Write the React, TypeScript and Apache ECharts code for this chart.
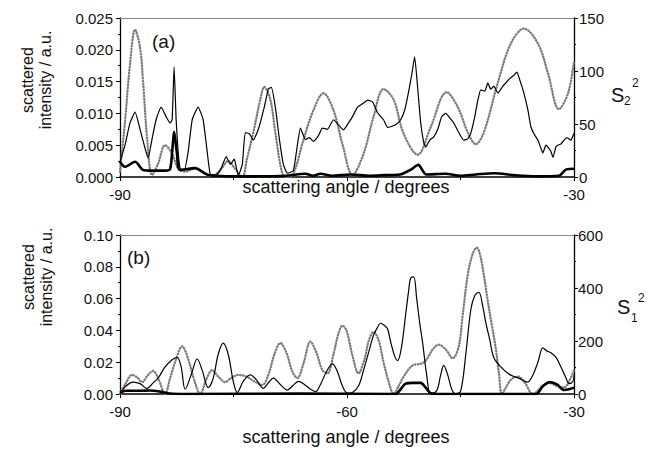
import React, { useEffect, useRef } from "react";
import * as echarts from "echarts";

// axis ranges / ticks
const X_MIN = -90;
const X_MAX = -30;
const X_STEP = 30;
const TOP_LEFT = { max: 0.025, step: 0.005, digits: 3 };
const TOP_RIGHT = { max: 150, step: 50 };
const BOT_LEFT = { max: 0.1, step: 0.02, digits: 2 };
const BOT_RIGHT = { max: 600, step: 200 };

// ---- panel (a) ----
// S2^2 (right axis), dotted grey
const topS2: number[][] = [
  [-90, 5], [-89.34, 52], [-88.68, 106], [-88.01, 139], [-87.35, 122], [-86.95, 90], [-86.42, 37], [-85.76, 2],
  [-85.0, 12], [-84.04, 30], [-83.11, 22], [-82.32, 8], [-81.39, 5], [-80.07, 8], [-78.8, 3], [-77.81, 1],
  [-76.6, 8], [-75.7, 15], [-74.8, 8], [-73.84, 0], [-73.2, 18], [-72.38, 42], [-71.46, 73], [-70.93, 85],
  [-70.13, 73], [-69.47, 42], [-68.54, 3], [-67.88, 0], [-67.09, 3], [-65.76, 35], [-64.44, 63], [-63.11, 79],
  [-61.79, 63], [-60.6, 31], [-59.27, 2], [-57.81, 22], [-56.49, 57], [-55.17, 83], [-53.84, 73], [-52.52, 41],
  [-50.66, 21], [-48.94, 47], [-46.82, 80], [-45.36, 66], [-44.04, 42], [-42.98, 31], [-41.92, 42], [-40.07, 89],
  [-38.34, 126], [-36.62, 140], [-34.77, 126], [-33.44, 98], [-31.99, 64], [-30.79, 79], [-30, 109],
];
// scattered intensity (left axis), thin black
const topThin: number[][] = [
  [-90.0, 0.0024], [-89.34, 0.005], [-88.68, 0.0085], [-88.01, 0.0102], [-87.35, 0.0075], [-86.69, 0.0045],
  [-86.29, 0.003], [-85.76, 0.006], [-85.23, 0.009], [-84.57, 0.011], [-83.91, 0.0095], [-83.38, 0.0085],
  [-83.11, 0.009], [-82.85, 0.0173], [-82.58, 0.009], [-82.32, 0.004], [-82.05, 0.0014], [-81.52, 0.001],
  [-80.99, 0.004], [-80.46, 0.009], [-79.67, 0.011], [-79.01, 0.009], [-78.48, 0.004], [-78.08, 0.0005],
  [-77.42, 0.0002], [-76.75, 0.001], [-75.96, 0.0032], [-75.43, 0.002], [-74.9, 0.0028], [-74.37, 0.0002],
  [-73.84, 0.002], [-73.44, 0.007], [-72.91, 0.0068], [-72.38, 0.0058], [-71.72, 0.0075], [-70.93, 0.011],
  [-70.4, 0.0138], [-70.0, 0.0141], [-69.47, 0.011], [-68.94, 0.006], [-68.41, 0.002], [-67.88, 0.0006],
  [-67.09, 0.001], [-66.56, 0.005], [-66.16, 0.0077], [-65.5, 0.0059], [-64.97, 0.0062], [-64.44, 0.0056],
  [-63.77, 0.0065], [-63.25, 0.0077], [-62.58, 0.0075], [-61.79, 0.009], [-61.13, 0.0082], [-60.46, 0.0074],
  [-59.8, 0.0085], [-59.27, 0.0095], [-58.61, 0.011], [-57.95, 0.0115], [-57.28, 0.0121], [-56.62, 0.0118],
  [-55.96, 0.0101], [-55.17, 0.009], [-54.64, 0.0078], [-54.24, 0.0079], [-53.58, 0.0082], [-52.91, 0.009],
  [-52.38, 0.0105], [-51.99, 0.0126], [-51.46, 0.016], [-51.06, 0.0189], [-50.66, 0.014], [-50.26, 0.0085],
  [-49.87, 0.0055], [-49.6, 0.0047], [-49.07, 0.0058], [-48.54, 0.0063], [-48.01, 0.0075], [-47.48, 0.0095],
  [-46.95, 0.01], [-46.42, 0.0093], [-45.89, 0.0085], [-45.23, 0.007], [-44.57, 0.0058], [-44.04, 0.006],
  [-43.64, 0.0069], [-43.11, 0.0095], [-42.72, 0.012], [-42.32, 0.0137], [-41.79, 0.0135], [-41.39, 0.0148],
  [-40.99, 0.0138], [-40.6, 0.0143], [-40.07, 0.0132], [-39.4, 0.0143], [-39.01, 0.0148], [-38.48, 0.0155],
  [-37.95, 0.016], [-37.55, 0.0165], [-37.15, 0.0152], [-36.62, 0.0132], [-36.09, 0.0105], [-35.7, 0.0079],
  [-35.3, 0.0068], [-34.77, 0.0058], [-34.37, 0.0045], [-34.11, 0.0038], [-33.71, 0.005], [-33.44, 0.0047],
  [-33.05, 0.004], [-32.78, 0.0031], [-32.38, 0.0048], [-32.12, 0.005], [-31.72, 0.0052], [-31.32, 0.0058],
  [-30.93, 0.0062], [-30.4, 0.0058], [-30.13, 0.0065], [-30.0, 0.0069],
];
// scattered intensity (left axis), thick black
const topThick: number[][] = [
  [-90, 0.0024], [-89.34, 0.0016], [-88.01, 0.0024], [-86.95, 0.0011], [-85.8, 0.001], [-84.0, 0.001],
  [-83.4, 0.0012], [-83.1, 0.004], [-82.85, 0.0071], [-82.5, 0.004], [-82.05, 0.0011], [-80.1, 0.0014],
  [-78.3, 0.0003], [-77, 0.0002], [-75.5, 0.0001], [-72, 0.0001], [-68, 0.0002], [-65.5, 0.0005],
  [-64.5, 0.0002], [-63.5, 0.0005], [-62, 0.0002], [-59.5, 0.0004], [-57, 0.0002], [-55, 0.0003],
  [-53, 0.0004], [-51.5, 0.0012], [-50.6, 0.0019], [-49.5, 0.0004], [-47, 0.0005], [-45, 0.0002],
  [-43, 0.0004], [-40.5, 0.0006], [-38, 0.0003], [-35, 0.0001], [-32, 0.0002], [-31, 0.0012], [-30, 0.0013],
];

// ---- panel (b) ----
// S1^2 (right axis), dotted grey
const botS1: number[][] = [
  [-90.0, 0], [-89.21, 42], [-88.41, 72], [-87.75, 63], [-87.09, 45], [-86.29, 72], [-85.63, 87], [-84.97, 60],
  [-84.04, 0], [-83.38, 60], [-82.58, 132], [-81.79, 180], [-80.99, 132], [-80.2, 54], [-79.4, 0], [-78.61, 54],
  [-77.81, 90], [-77.02, 66], [-76.09, 45], [-75.43, 58], [-74.37, 72], [-73.31, 66], [-72.25, 48], [-71.19, 34],
  [-70.4, 72], [-69.6, 150], [-68.81, 192], [-68.01, 156], [-67.22, 84], [-66.56, 60], [-65.76, 114], [-64.83, 198],
  [-64.04, 156], [-63.25, 90], [-62.58, 78], [-61.79, 150], [-61.13, 228], [-60.6, 258], [-60.07, 240],
  [-59.27, 144], [-58.48, 78], [-57.68, 132], [-57.15, 198], [-56.49, 234], [-55.83, 204], [-55.17, 120],
  [-54.5, 48], [-53.84, 0], [-53.18, 30], [-52.38, 72], [-51.32, 108], [-50.26, 114], [-49.6, 126], [-48.68, 168],
  [-47.88, 186], [-46.95, 168], [-46.03, 135], [-45.23, 180], [-44.7, 300], [-44.04, 450], [-43.38, 530],
  [-42.85, 552], [-42.45, 530], [-41.92, 450], [-41.39, 350], [-40.86, 260], [-40.33, 170], [-39.93, 80],
  [-39.54, 0], [-39.01, 24], [-38.34, 54], [-37.42, 66], [-36.49, 42], [-35.43, 0], [-34.37, 24], [-33.31, 42],
  [-32.25, 30], [-31.32, 25], [-30.53, 55], [-30.0, 90],
];
// scattered intensity (left axis), thin black
const botThin: number[][] = [
  [-90.0, 0], [-89.21, 0.005], [-88.28, 0.0075], [-87.35, 0.0065], [-86.42, 0.0035], [-85.63, 0.007],
  [-84.97, 0.01], [-84.04, 0.017], [-83.11, 0.0215], [-82.45, 0.023], [-81.92, 0.017], [-81.39, 0.003],
  [-80.6, 0.012], [-79.8, 0.022], [-79.14, 0.015], [-78.34, 0.004], [-77.68, 0.01], [-77.02, 0.025],
  [-76.36, 0.032], [-75.7, 0.025], [-75.03, 0.008], [-74.5, 0.001], [-73.71, 0.008], [-72.78, 0.012],
  [-71.99, 0.009], [-71.06, 0.0035], [-70.4, 0.007], [-69.74, 0.01], [-68.81, 0.006], [-67.88, 0.0025],
  [-67.22, 0.005], [-66.42, 0.008], [-65.63, 0.006], [-64.83, 0.003], [-64.17, 0.0015], [-63.51, 0.006],
  [-62.72, 0.014], [-61.92, 0.019], [-61.26, 0.014], [-60.6, 0.005], [-59.93, 0.0005], [-59.27, 0.001],
  [-58.48, 0.005], [-57.81, 0.015], [-57.15, 0.026], [-56.49, 0.037], [-55.96, 0.042], [-55.56, 0.0445],
  [-55.03, 0.043], [-54.64, 0.041], [-54.24, 0.033], [-53.71, 0.024], [-53.31, 0.021], [-52.78, 0.03],
  [-52.25, 0.05], [-51.85, 0.065], [-51.59, 0.073], [-51.19, 0.0737], [-50.79, 0.06], [-50.4, 0.045],
  [-50.0, 0.032], [-49.47, 0.012], [-48.94, 0], [-48.15, 0.002], [-47.62, 0.012], [-47.22, 0.018],
  [-46.69, 0.012], [-46.16, 0.003], [-45.63, 0], [-44.97, 0.002], [-44.3, 0.025], [-43.64, 0.053],
  [-43.11, 0.062], [-42.58, 0.064], [-42.05, 0.055], [-41.66, 0.045], [-41.13, 0.034], [-40.6, 0.023],
  [-39.67, 0.017], [-38.74, 0.013], [-37.95, 0.011], [-37.28, 0.01], [-36.49, 0.008], [-36.09, 0.0075],
  [-35.43, 0.012], [-34.77, 0.02], [-34.11, 0.029], [-33.58, 0.027], [-33.05, 0.026], [-32.38, 0.023],
  [-31.72, 0.017], [-31.06, 0.01], [-30.66, 0.0065], [-30.13, 0.008], [-30.0, 0.012],
];
// scattered intensity (left axis), thick black
const botThick: number[][] = [
  [-90, 0.001], [-89.21, 0.002], [-87.35, 0.002], [-86.03, 0.0022], [-84.7, 0.0015], [-83.38, 0.0003],
  [-81.39, 0], [-66.16, 0.0003], [-53.58, 0], [-52.91, 0.003], [-52.25, 0.0065], [-51.32, 0.007],
  [-50.26, 0.007], [-49.6, 0.004], [-48.94, 0.0005], [-47.62, 0], [-35.03, 0], [-34.11, 0.005],
  [-33.18, 0.0075], [-32.25, 0.006], [-31.32, 0.0025], [-30.66, 0.003], [-30, 0.004],
];

const FONT = "'Liberation Sans', Arial, sans-serif";
const INK = "#111";

function xBottom(grid: number, hideMid: boolean) {
  return {
    gridIndex: grid,
    type: "value",
    min: X_MIN,
    max: X_MAX,
    interval: X_STEP,
    position: "bottom",
    axisLine: { show: true, onZero: false, lineStyle: { color: "#000", width: 1.5 } },
    axisTick: { show: true, length: 4, lineStyle: { color: "#000" } },
    minorTick: { show: true, splitNumber: 2, length: 3, lineStyle: { color: "#000" } },
    splitLine: { show: false },
    minorSplitLine: { show: false },
    axisLabel: {
      fontSize: 15,
      fontFamily: FONT,
      color: INK,
      margin: 10,
      formatter: (v: number) => (hideMid && v === -60 ? "" : String(v)),
    },
  };
}
function xTopFrame(grid: number) {
  return {
    gridIndex: grid,
    type: "value",
    min: X_MIN,
    max: X_MAX,
    position: "top",
    axisLine: { show: true, onZero: false, lineStyle: { color: "#888", width: 1 } },
    axisTick: { show: false },
    axisLabel: { show: false },
    splitLine: { show: false },
  };
}
function yAxisDef(grid: number, pos: "left" | "right", max: number, step: number, digits: number | null, margin: number) {
  return {
    gridIndex: grid,
    type: "value",
    min: 0,
    max,
    interval: step,
    position: pos,
    axisLine: { show: true, onZero: false, lineStyle: { color: "#000", width: 1.3 } },
    axisTick: { show: true, length: 4, lineStyle: { color: "#000" } },
    minorTick: { show: true, splitNumber: 2, length: 2, lineStyle: { color: "#000" } },
    splitLine: { show: false },
    minorSplitLine: { show: false },
    axisLabel: {
      fontSize: 15,
      fontFamily: FONT,
      color: INK,
      margin,
      formatter: (v: number) => (digits === null ? String(Math.round(v)) : v.toFixed(digits)),
    },
  };
}

function dotted(data: number[][], xi: number, yi: number) {
  return {
    type: "line",
    data,
    xAxisIndex: xi,
    yAxisIndex: yi,
    showSymbol: false,
    smooth: 0.35,
    lineStyle: { color: "#7c7c7c", width: 2.3, type: [0.6, 2.4], cap: "round" },
    z: 2,
  };
}
function solid(data: number[][], xi: number, yi: number, width: number, smooth: number) {
  return {
    type: "line",
    data,
    xAxisIndex: xi,
    yAxisIndex: yi,
    showSymbol: false,
    smooth,
    lineStyle: { color: "#000", width },
    z: 3,
  };
}

function txt(text: string, x: number, y: number, size: number, extra: any = {}) {
  return {
    type: "text",
    x,
    y,
    ...extra,
    style: {
      text,
      fill: INK,
      font: `${size}px ${FONT}`,
      textAlign: extra.align || "left",
      textVerticalAlign: "middle",
      lineHeight: extra.lineHeight || size + 2,
    },
  };
}

export default function App() {
  const ref = useRef<HTMLDivElement>(null);
  useEffect(() => {
    if (!ref.current) return;
    const chart = echarts.init(ref.current, null, { renderer: "svg" });
    chart.setOption({
      animation: false,
      backgroundColor: "#fff",
      grid: [
        { left: 120, top: 18, width: 454, height: 159 },
        { left: 120, top: 235, width: 454, height: 159 },
      ],
      xAxis: [xBottom(0, true), xTopFrame(0), xBottom(1, false), xTopFrame(1)],
      yAxis: [
        yAxisDef(0, "left", TOP_LEFT.max, TOP_LEFT.step, TOP_LEFT.digits, 7),
        yAxisDef(0, "right", TOP_RIGHT.max, TOP_RIGHT.step, null, 5),
        yAxisDef(1, "left", BOT_LEFT.max, BOT_LEFT.step, BOT_LEFT.digits, 7),
        yAxisDef(1, "right", BOT_RIGHT.max, BOT_RIGHT.step, null, 4),
      ],
      series: [
        dotted(topS2, 0, 1),
        solid(topThin, 0, 0, 1.2, 0.15),
        solid(topThick, 0, 0, 2.6, 0.3),
        dotted(botS1, 2, 3),
        solid(botThin, 2, 2, 1.2, 0.35),
        solid(botThick, 2, 2, 2.6, 0.3),
      ],
      graphic: [
        txt("(a)", 152, 41, 19),
        txt("(b)", 127, 257, 19),
        txt("scattered\nintensity / a.u.", 36, 80, 16, { rotation: Math.PI / 2, align: "center", lineHeight: 18 }),
        txt("scattered\nintensity / a.u.", 37, 277, 16, { rotation: Math.PI / 2, align: "center", lineHeight: 18 }),
        txt("scattering angle / degrees", 346, 187, 18, { align: "center" }),
        txt("scattering angle / degrees", 346, 437, 18, { align: "center" }),
        txt("S", 611, 95, 20),
        txt("2", 624, 101, 12),
        txt("2", 632, 83, 12),
        txt("S", 617, 307, 20),
        txt("1", 631, 318, 12),
        txt("2", 638, 298, 12),
      ],
    });
    return () => chart.dispose();
  }, []);
  return (
    <div
      ref={ref}
      style={{ position: "fixed", left: 0, top: 0, width: 656, height: 451, background: "#fff" }}
    />
  );
}
